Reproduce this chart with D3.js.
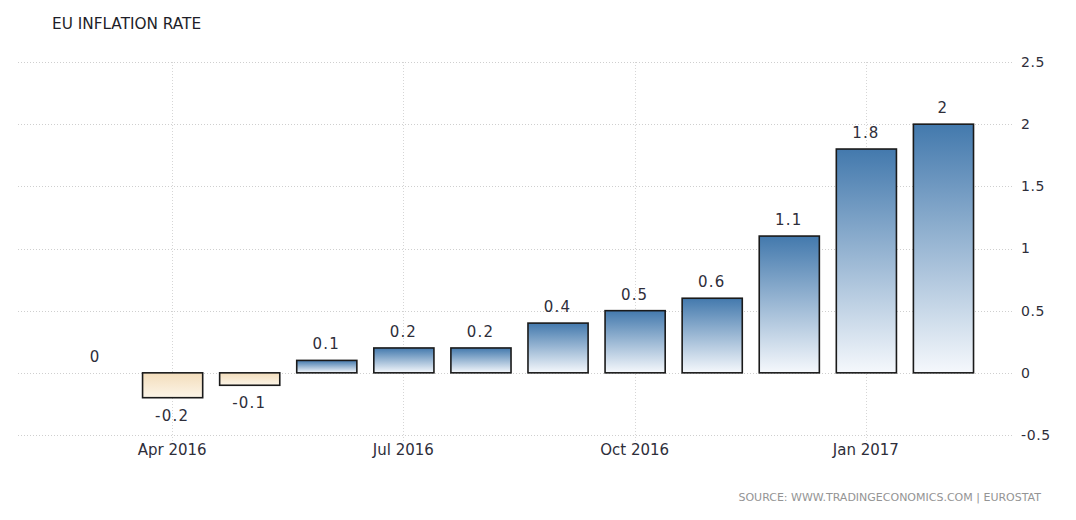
<!DOCTYPE html>
<html><head><meta charset="utf-8">
<script src="https://cdn.jsdelivr.net/npm/d3@7/dist/d3.min.js"></script>
<style>
body{margin:0;background:#fff;}
text{font-family:"DejaVu Sans",Verdana,sans-serif;}
</style></head>
<body>
<svg id="chart" width="1076" height="520"></svg>
<script>
const months = ["Mar 2016","Apr 2016","May 2016","Jun 2016","Jul 2016","Aug 2016","Sep 2016","Oct 2016","Nov 2016","Dec 2016","Jan 2017","Feb 2017"];
const values = [0, -0.2, -0.1, 0.1, 0.2, 0.2, 0.4, 0.5, 0.6, 1.1, 1.8, 2.0];
const xTickLabels = ["Apr 2016","Jul 2016","Oct 2016","Jan 2017"];
const yTicks = [-0.5, 0, 0.5, 1, 1.5, 2, 2.5];

const svg = d3.select("#chart");
const defs = svg.append("defs");
const gp = defs.append("linearGradient").attr("id","gPos").attr("x1",0).attr("y1",0).attr("x2",0).attr("y2",1);
gp.append("stop").attr("offset","0%").attr("stop-color","#4379ad");
gp.append("stop").attr("offset","100%").attr("stop-color","#f5f8fc");
const gn = defs.append("linearGradient").attr("id","gNeg").attr("x1",0).attr("y1",0).attr("x2",0).attr("y2",1);
gn.append("stop").attr("offset","0%").attr("stop-color","#f3ddbb");
gn.append("stop").attr("offset","100%").attr("stop-color","#fcf5e8");

const x = d3.scaleBand().domain(months).range([56.5, 981.5]).paddingInner(0.22).paddingOuter(0.11);
const y = d3.scaleLinear().domain([-0.5, 2.5]).range([435, 62]);

const gridL = 18, gridR = 1012;

// horizontal grid
svg.append("g").selectAll("line").data(yTicks).join("line")
  .attr("x1", gridL).attr("x2", gridR)
  .attr("y1", d => Math.round(y(d)) + 0.5).attr("y2", d => Math.round(y(d)) + 0.5)
  .attr("stroke", "#cfcfcf").attr("stroke-dasharray", "1,2");

// vertical grid
svg.append("g").selectAll("line").data(xTickLabels).join("line")
  .attr("x1", d => Math.round(x(d) + x.bandwidth()/2) + 0.5)
  .attr("x2", d => Math.round(x(d) + x.bandwidth()/2) + 0.5)
  .attr("y1", 62).attr("y2", 443)
  .attr("stroke", "#d6d6d6").attr("stroke-dasharray", "1,2");

// y axis labels
const yAxis = d3.axisRight(y).tickValues(yTicks).tickSize(0).tickPadding(0).tickFormat(d => String(d));
const ya = svg.append("g").attr("transform", `translate(1021,0)`).call(yAxis);
ya.select(".domain").remove();
ya.selectAll("text").attr("font-size", 14).attr("fill", "#2e2e3a")
  .attr("letter-spacing", 0.6).attr("font-family", "DejaVu Sans, Verdana, sans-serif");

// x axis labels
const xAxis = d3.axisBottom(x).tickValues(xTickLabels).tickSize(0).tickPadding(0);
const xa = svg.append("g").attr("transform", `translate(0,444)`).call(xAxis);
xa.select(".domain").remove();
xa.selectAll("text").attr("font-size", 15).attr("fill", "#2e2e3a").attr("font-family", "DejaVu Sans, Verdana, sans-serif");

// bars
const data = months.map((m, i) => ({m, v: values[i]}));
svg.append("g").selectAll("rect").data(data.filter(d => d.v !== 0)).join("rect")
  .attr("x", d => x(d.m) + 0.5)
  .attr("width", x.bandwidth())
  .attr("y", d => y(Math.max(0, d.v)))
  .attr("height", d => Math.abs(y(d.v) - y(0)))
  .attr("fill", d => d.v >= 0 ? "url(#gPos)" : "url(#gNeg)")
  .attr("stroke", "#1a1a1a").attr("stroke-width", 1.6);

// value labels
svg.append("g").selectAll("text").data(data).join("text")
  .attr("x", d => x(d.m) + x.bandwidth()/2)
  .attr("y", d => d.v >= 0 ? y(d.v) - 11 : y(d.v) + 23)
  .attr("text-anchor", "middle")
  .attr("font-size", 15).attr("fill", "#2e2e3a").attr("letter-spacing", 1.2)
  .text(d => String(d.v));

// title
svg.append("text").attr("x", 52).attr("y", 29).attr("font-size", 15.3).attr("fill", "#1e1e28")
  .text("EU INFLATION RATE");

// source
svg.append("text").attr("x", 1041).attr("y", 501).attr("text-anchor", "end")
  .attr("font-size", 11).attr("fill", "#949494").text("SOURCE: WWW.TRADINGECONOMICS.COM | EUROSTAT");
</script>
</body></html>
